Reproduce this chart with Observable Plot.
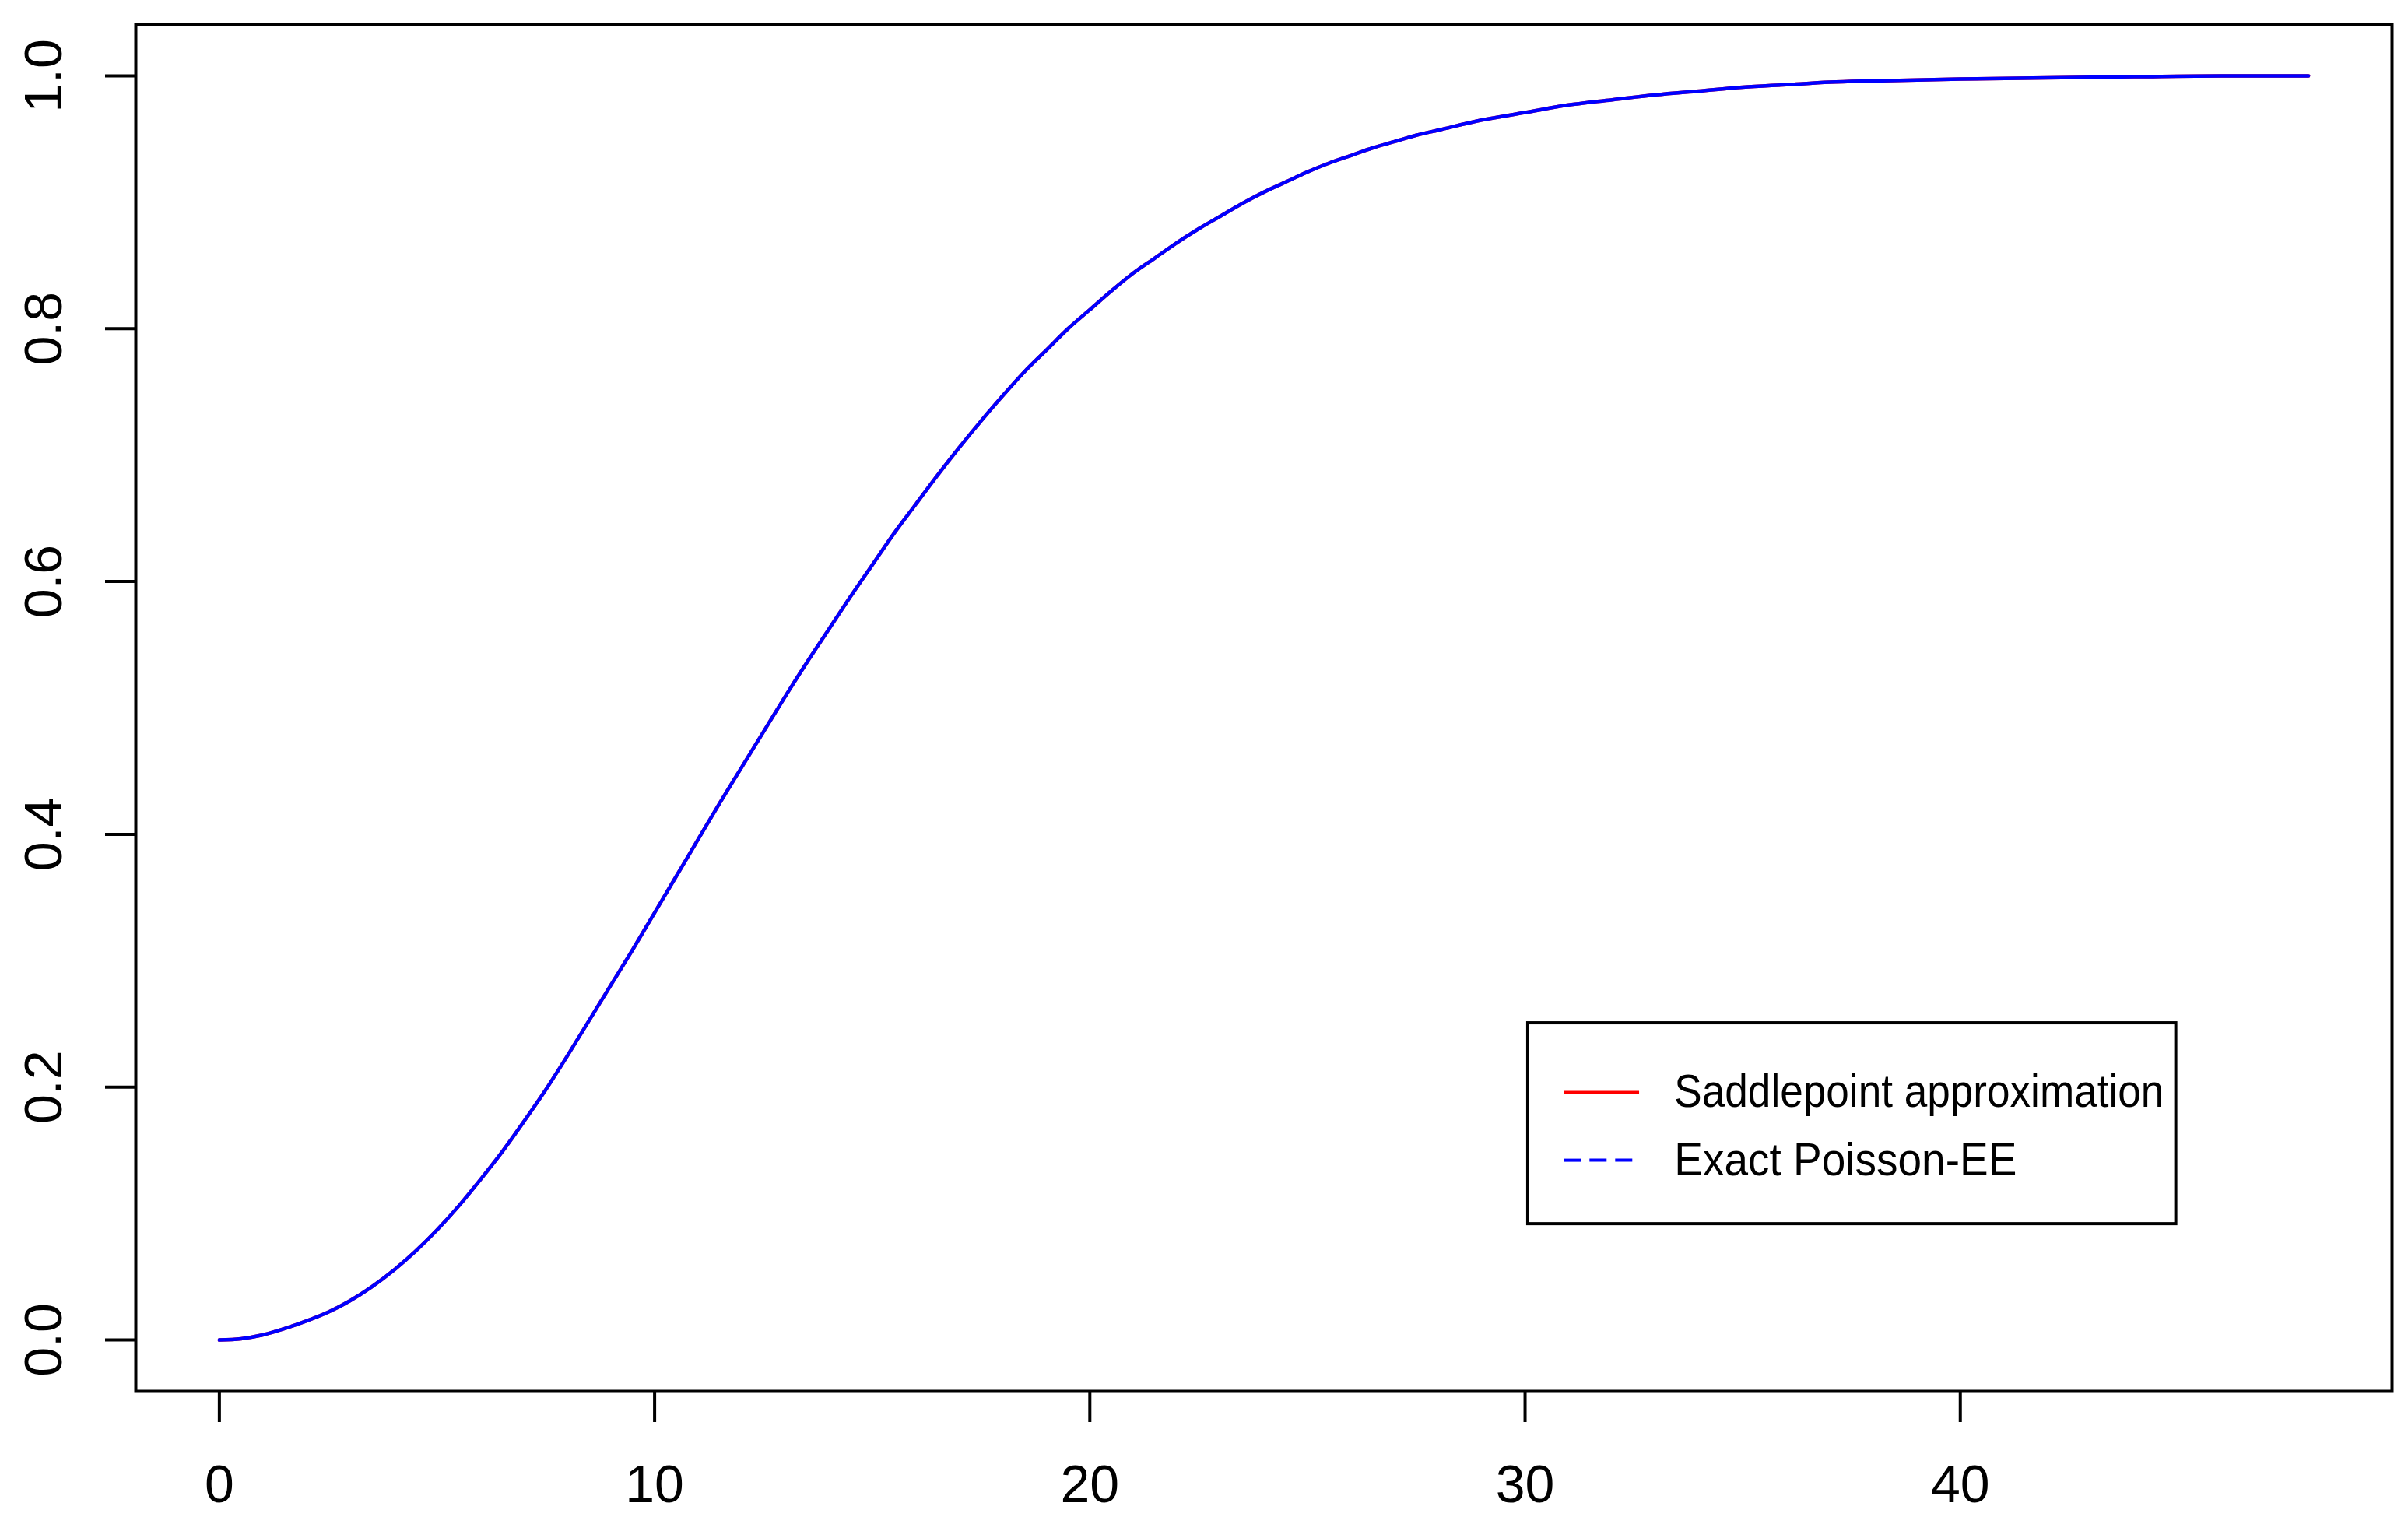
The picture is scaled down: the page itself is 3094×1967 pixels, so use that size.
<!DOCTYPE html>
<html><head><meta charset="utf-8">
<script src="https://cdn.jsdelivr.net/npm/d3@7"></script>
<script src="https://cdn.jsdelivr.net/npm/@observablehq/plot@0.6"></script>
<style>html,body{margin:0;padding:0;background:#fff} svg{display:block}</style>
</head><body><div id="chart"></div>
<script>
// x values of the curve
const xValues = [0,0.5,1,1.5,2,2.5,3,3.5,4,4.5,5,5.5,6,6.5,7,7.5,8,8.5,9,9.5,10,10.5,11,11.5,12,12.5,13,13.5,14,14.5,15,15.5,16,16.5,17,17.5,18,18.5,19,19.5,20,20.5,21,21.5,22,22.5,23,23.5,24,24.5,25,25.5,26,26.5,27,27.5,28,29,30,31,32,33,34,35,36,37,38,40,42,44,46,48];
// Saddlepoint approximation (red, solid)
const saddlepoint = [0,0.001,0.004,0.009,0.015,0.022,0.031,0.042,0.055,0.070,0.087,0.106,0.127,0.149,0.173,0.198,0.225,0.253,0.281,0.309,0.338,0.367,0.396,0.425,0.453,0.481,0.509,0.536,0.562,0.588,0.613,0.638,0.661,0.684,0.706,0.727,0.747,0.766,0.783,0.800,0.815,0.830,0.844,0.856,0.868,0.879,0.889,0.899,0.908,0.916,0.924,0.931,0.937,0.943,0.948,0.953,0.957,0.965,0.971,0.977,0.981,0.985,0.988,0.991,0.993,0.995,0.996,0.9975,0.9985,0.9993,1.0,1.0];
// Exact Poisson-EE (blue, dashed)
const exactPoissonEE = [0,0.001,0.004,0.009,0.015,0.022,0.031,0.042,0.055,0.070,0.087,0.106,0.127,0.149,0.173,0.198,0.225,0.253,0.281,0.309,0.338,0.367,0.396,0.425,0.453,0.481,0.509,0.536,0.562,0.588,0.613,0.638,0.661,0.684,0.706,0.727,0.747,0.766,0.783,0.800,0.815,0.830,0.844,0.856,0.868,0.879,0.889,0.899,0.908,0.916,0.924,0.931,0.937,0.943,0.948,0.953,0.957,0.965,0.971,0.977,0.981,0.985,0.988,0.991,0.993,0.995,0.996,0.9975,0.9985,0.9993,1.0,1.0];

const xTicks = [0, 10, 20, 30, 40];
const xTickLabels = ["0", "10", "20", "30", "40"];
const yTicks = [0, 0.2, 0.4, 0.6, 0.8, 1.0];
const yTickLabels = ["0.0", "0.2", "0.4", "0.6", "0.8", "1.0"];
const seriesNames = ["Saddlepoint approximation", "Exact Poisson-EE"];
const seriesColors = ["#ff0000", "#0000ff"];

const rows = xValues.map((x, i) => ({x, saddle: saddlepoint[i], exact: exactPoissonEE[i]}));

// legend layout (in data units, placed through the scales)
const LEG = {x1: 30.07, x2: 44.96, y1: 0.0917, y2: 0.2506, lx1: 30.89, lx2: 32.62, tx: 33.43, rowY: [0.1958, 0.1422], textWidths: [629, 440]};
const legendRows = seriesNames.map((name, i) => ({name, color: seriesColors[i], y: LEG.rowY[i], dash: i === 1}));

const FONT = "'Liberation Sans', Arial, Helvetica, sans-serif";

const chart = Plot.plot({
  width: 3094,
  height: 1967,
  marginLeft: 174,
  marginRight: 21,
  marginTop: 31,
  marginBottom: 180,
  x: {domain: [-1.92, 49.92]},
  y: {domain: [-0.0406, 1.0406]},
  style: {fontFamily: FONT, background: "white", color: "black", overflow: "visible"},
  marks: [
    Plot.axisX({ticks: xTicks, tickSize: 40, strokeWidth: 4, tickFormat: () => "", label: null}),
    Plot.axisY({ticks: yTicks, tickSize: 39, strokeWidth: 4, tickFormat: () => "", label: null}),
    Plot.text(xTicks, {x: d => d, frameAnchor: "bottom", dy: 121, lineAnchor: "middle", textAnchor: "middle", text: (d, i) => xTickLabels[i], fontSize: 68, fill: "black"}),
    Plot.text(yTicks, {y: d => d, frameAnchor: "left", dx: -117, rotate: -90, textAnchor: "middle", lineAnchor: "middle", text: (d, i) => yTickLabels[i], fontSize: 68, fill: "black"}),
    Plot.line(rows, {x: "x", y: "saddle", stroke: seriesColors[0], strokeWidth: 4.5, curve: "monotone-x"}),
    Plot.line(rows, {x: "x", y: "exact", stroke: seriesColors[1], strokeWidth: 4.5, curve: "monotone-x"}),
    Plot.rect([0], {x1: LEG.x1, x2: LEG.x2, y1: LEG.y1, y2: LEG.y2, fill: "white", stroke: "black", strokeWidth: 4}),
    Plot.link(legendRows.filter(d => !d.dash), {x1: LEG.lx1, x2: LEG.lx2, y1: "y", y2: "y", stroke: "color", strokeWidth: 4}),
    Plot.link(legendRows.filter(d => d.dash), {x1: LEG.lx1, x2: LEG.lx2, y1: "y", y2: "y", stroke: "color", strokeWidth: 4, strokeDasharray: "22,11"}),
    Plot.text(legendRows, {x: LEG.tx, y: "y", text: "name", textAnchor: "start", lineAnchor: "middle", fontSize: 59, fill: "black", className: "legend-text"}),
    Plot.frame({stroke: "black", strokeWidth: 4})
  ]
});
// fit legend label widths to the reference
chart.querySelectorAll("text").forEach(t => {
  const i = seriesNames.indexOf(t.textContent);
  if (i >= 0) {
    t.setAttribute("textLength", LEG.textWidths[i]);
    t.setAttribute("lengthAdjust", "spacingAndGlyphs");
  }
});
document.getElementById("chart").appendChild(chart);
</script>
</body></html>
